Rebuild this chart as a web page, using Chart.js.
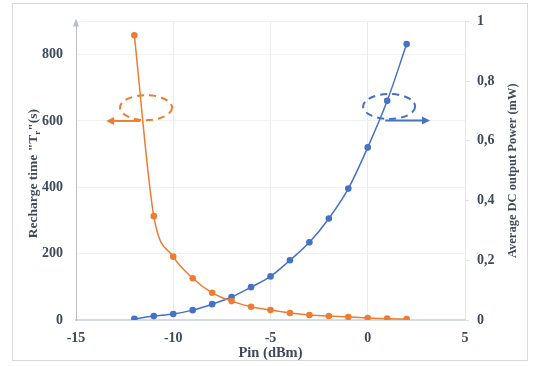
<!DOCTYPE html>
<html>
<head>
<meta charset="utf-8">
<script src="https://cdn.jsdelivr.net/npm/chart.js@4/dist/chart.umd.min.js"></script>
<style>
html,body{margin:0;padding:0;background:#fff;}
#wrap{width:533px;height:367px;position:relative;}
</style>
</head>
<body>
<div id="wrap"><canvas id="c" width="533" height="367"></canvas></div>
<script>
// ---- data ----
const pinDbm = [-12,-11,-10,-9,-8,-7,-6,-5,-4,-3,-2,-1,0,1,2];
const rechargeTime = [858,313,191,126,82,57,40,30,21,15,12,9,6,4,3];
const dcPower = [0.004,0.013,0.02,0.033,0.053,0.077,0.11,0.146,0.2,0.26,0.34,0.44,0.578,0.734,0.924];
const xTicks = [-15,-10,-5,0,5];
const leftTicks = [0,200,400,600,800];
const rightTicks = [0,0.2,0.4,0.6,0.8,1];
const xTitle = 'Pin (dBm)';
const leftTitleParts = ['Recharge time "T','r','"(s)'];
const rightTitle = 'Average DC output Power (mW)';
// annotation anchors in data coordinates: [x, y]
const orangeEllipse = [-11.4, 640];
const orangeArrow = [[-11.7, 600], [-13.45, 600]];
const blueEllipse = [1.1, 0.715];
const blueArrow = [[0.9, 0.668], [3.2, 0.668]];

const TXT = '#3e4a5b';
const ORANGE = '#ed7d31';
const BLUE = '#4472c4';
const SERIF = '"Liberation Serif", "Times New Roman", serif';

const deco = {
  id: 'deco',
  beforeDraw(chart) {
    const ctx = chart.ctx;
    ctx.save();
    ctx.fillStyle = '#fff';
    ctx.fillRect(0,0,chart.width,chart.height);
    ctx.strokeStyle = '#d9d9d9';
    ctx.lineWidth = 1;
    ctx.strokeRect(12.5, 3.5, 515, 357);
    ctx.restore();
  },
  afterDraw(chart) {
    const ctx = chart.ctx;
    const xs = chart.scales.x, yl = chart.scales.yL, yr = chart.scales.yR;
    const ca = chart.chartArea;
    ctx.save();
    // left axis arrow
    ctx.fillStyle = '#b4c0d0';
    ctx.beginPath();
    ctx.moveTo(ca.left, ca.top - 3);
    ctx.lineTo(ca.left - 3, ca.top + 5);
    ctx.lineTo(ca.left + 3, ca.top + 5);
    ctx.closePath();
    ctx.fill();

    function ellipse(color, cx, cy) {
      ctx.strokeStyle = color;
      ctx.lineWidth = 2;
      ctx.setLineDash([7,5]);
      ctx.beginPath();
      ctx.ellipse(cx, cy, 26, 12.5, 0, 0, Math.PI*2);
      ctx.stroke();
      ctx.setLineDash([]);
    }
    function arrow(color, x1, y1, x2, y2) {
      ctx.strokeStyle = color;
      ctx.fillStyle = color;
      ctx.lineWidth = 2;
      const dir = Math.sign(x2 - x1);
      ctx.beginPath();
      ctx.moveTo(x1, y1);
      ctx.lineTo(x2 - dir*6, y2);
      ctx.stroke();
      ctx.beginPath();
      ctx.moveTo(x2, y2);
      ctx.lineTo(x2 - dir*8, y2 - 4);
      ctx.lineTo(x2 - dir*8, y2 + 4);
      ctx.closePath();
      ctx.fill();
    }
    ellipse(ORANGE, xs.getPixelForValue(orangeEllipse[0]), yl.getPixelForValue(orangeEllipse[1]));
    arrow(ORANGE, xs.getPixelForValue(orangeArrow[0][0]), yl.getPixelForValue(orangeArrow[0][1]),
                  xs.getPixelForValue(orangeArrow[1][0]), yl.getPixelForValue(orangeArrow[1][1]));
    ellipse(BLUE, xs.getPixelForValue(blueEllipse[0]), yr.getPixelForValue(blueEllipse[1]));
    arrow(BLUE, xs.getPixelForValue(blueArrow[0][0]), yr.getPixelForValue(blueArrow[0][1]),
                xs.getPixelForValue(blueArrow[1][0]), yr.getPixelForValue(blueArrow[1][1]));

    // titles
    ctx.fillStyle = TXT;
    ctx.textBaseline = 'alphabetic';
    // x title
    ctx.font = 'bold 14.5px ' + SERIF;
    ctx.textAlign = 'center';
    ctx.fillText(xTitle, (ca.left + ca.right)/2, 357);
    // left title (rotated) with subscript
    const big = 'bold 13.5px ' + SERIF, small = 'bold 9px ' + SERIF;
    ctx.font = big;
    const w0 = ctx.measureText(leftTitleParts[0]).width;
    const w2 = ctx.measureText(leftTitleParts[2]).width;
    ctx.font = small;
    const w1 = ctx.measureText(leftTitleParts[1]).width;
    const total = w0 + w1 + w2;
    ctx.save();
    ctx.translate(37, (ca.top + ca.bottom)/2 + 3);
    ctx.rotate(-Math.PI/2);
    ctx.textAlign = 'left';
    let px = -total/2;
    ctx.font = big; ctx.fillText(leftTitleParts[0], px, 0); px += w0;
    ctx.font = small; ctx.fillText(leftTitleParts[1], px, 3); px += w1;
    ctx.font = big; ctx.fillText(leftTitleParts[2], px, 0);
    ctx.restore();
    // right title
    ctx.save();
    ctx.translate(516, (ca.top + ca.bottom)/2);
    ctx.rotate(-Math.PI/2);
    ctx.textAlign = 'center';
    ctx.font = 'bold 12.5px ' + SERIF;
    ctx.fillText(rightTitle, 0, 0);
    ctx.restore();
    ctx.restore();
  }
};

new Chart(document.getElementById('c'), {
  type: 'line',
  data: {
    datasets: [
      {
        label: 'Recharge time',
        data: pinDbm.map((x,i)=>({x, y: rechargeTime[i]})),
        yAxisID: 'yL',
        borderColor: ORANGE, backgroundColor: ORANGE,
        borderWidth: 1.5, pointRadius: 3.3, pointBorderWidth: 0,
        cubicInterpolationMode: 'monotone'
      },
      {
        label: 'DC power',
        data: pinDbm.map((x,i)=>({x, y: dcPower[i]})),
        yAxisID: 'yR',
        borderColor: BLUE, backgroundColor: BLUE,
        borderWidth: 1.5, pointRadius: 3.3, pointBorderWidth: 0,
        cubicInterpolationMode: 'monotone'
      }
    ]
  },
  options: {
    responsive: false,
    animation: false,
    devicePixelRatio: 1,
    layout: { padding: { top: 19, left: 0, right: 0, bottom: 0 } },
    plugins: { legend: { display: false }, tooltip: { enabled: false } },
    scales: {
      x: {
        type: 'linear', min: -15, max: 5,
        afterBuildTicks: s => { s.ticks = xTicks.map(v=>({value:v})); },
        afterFit: s => { s.height = 47; },
        grid: { color: '#ececec', drawTicks: false, lineWidth: 1 },
        border: { color: '#d3dae4', width: 2 },
        ticks: { color: TXT, font: { family: SERIF, size: 14, weight: 'bold' }, padding: 10, maxRotation: 0,
                 callback: v => String(v) }
      },
      yL: {
        type: 'linear', position: 'left', min: 0, max: 900,
        afterBuildTicks: s => { s.ticks = leftTicks.concat([900]).map(v=>({value:v})); },
        afterFit: s => { s.width = 76; },
        grid: { color: '#f1f1f1', drawTicks: false },
        border: { color: '#b4c0d0', width: 1 },
        ticks: { color: TXT, font: { family: SERIF, size: 14, weight: 'bold' }, padding: 13,
                 callback: v => leftTicks.includes(v) ? String(v) : '' }
      },
      yR: {
        type: 'linear', position: 'right', min: 0, max: 1,
        afterBuildTicks: s => { s.ticks = rightTicks.map(v=>({value:v})); },
        afterFit: s => { s.width = 68; },
        grid: { drawOnChartArea: false, color: '#dde2ea', tickLength: 4 },
        border: { color: '#e4e8ee', width: 1 },
        ticks: { color: TXT, font: { family: SERIF, size: 14, weight: 'bold' }, padding: 8,
                 callback: v => String(v).replace('.', ',') }
      }
    }
  },
  plugins: [deco]
});
</script>
</body>
</html>
